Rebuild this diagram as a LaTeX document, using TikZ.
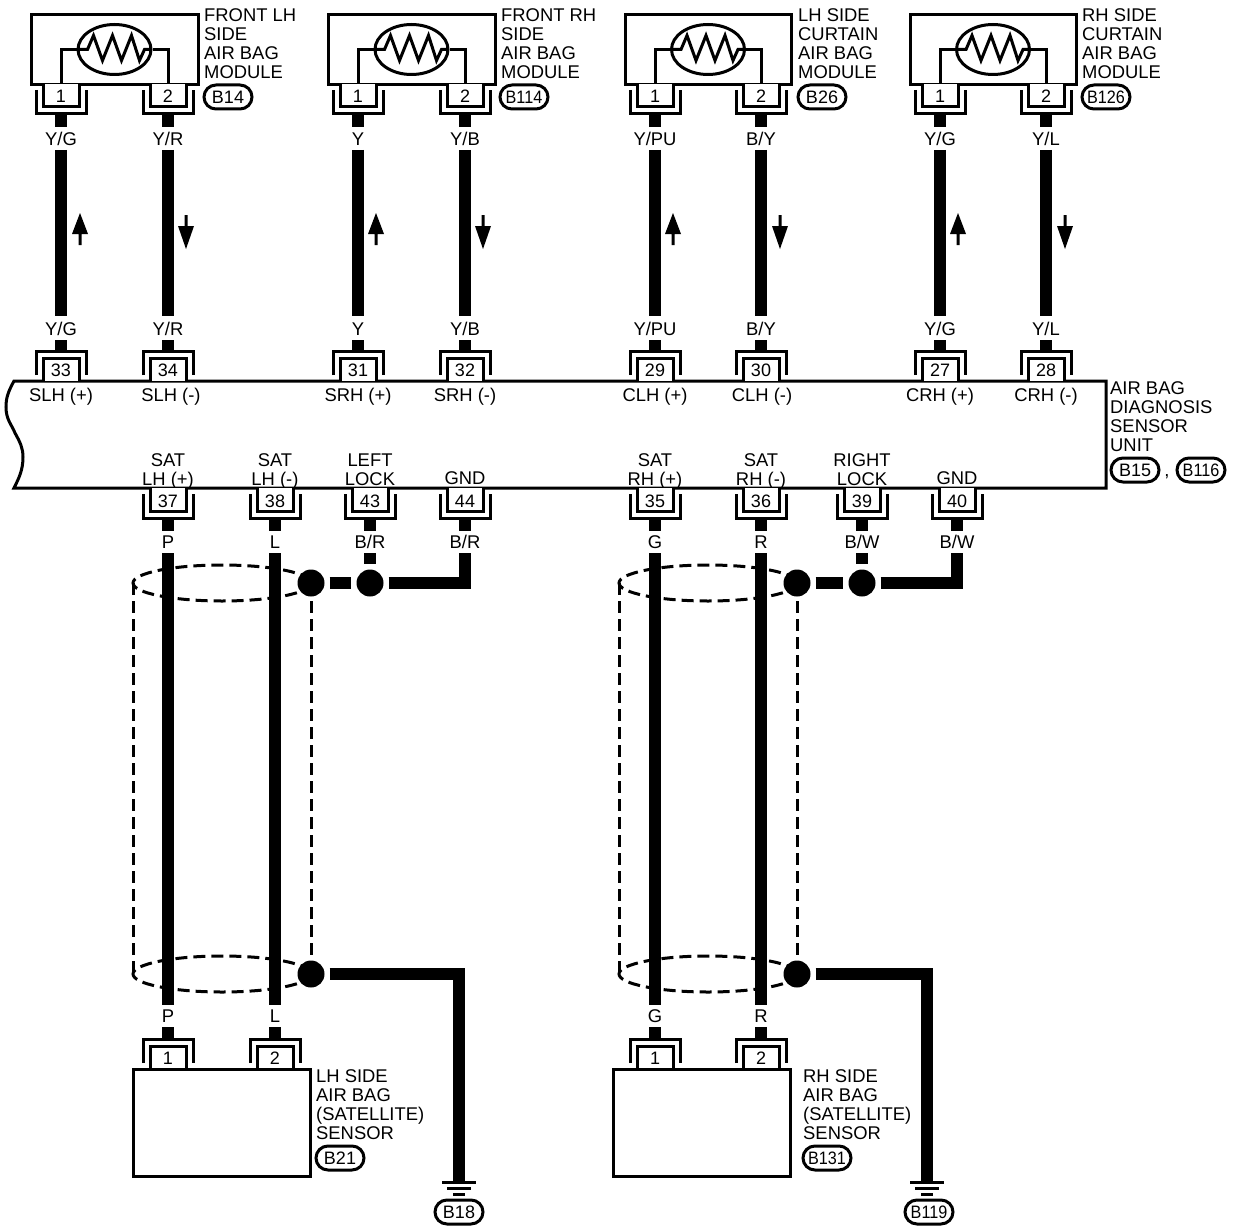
\documentclass[tikz,border=0pt]{standalone}
\usepackage{fontspec}
\setmainfont{Liberation Sans}
\usetikzlibrary{shapes.misc,shapes.geometric}
\tikzset{
 txt/.style={inner sep=0pt,font=\fontsize{18.4}{19}\selectfont,text=black,text height=13.2pt,text depth=0pt},
 ltxt/.style={txt,anchor=west},
 num/.style={inner sep=0pt,font=\fontsize{18}{19}\selectfont,text height=13pt,text depth=0pt},
 shell/.style={line width=3pt,draw=black,line join=miter},
 wire/.style={line width=12.5pt,draw=black,line cap=butt},
 shield/.style={line width=3pt,draw=black,dash pattern=on 12pt off 6pt},
 dot/.style={circle,fill=black,minimum size=27pt,inner sep=0pt},
 badge/.style={rounded rectangle,draw=black,line width=3pt,minimum width=48pt,minimum height=24pt,inner sep=0pt,font=\fontsize{18}{19}\selectfont,text height=13pt,text depth=0pt},
 gnd/.style={line width=3pt,draw=black},
}
\newcommand{\narrow}[1]{\scalebox{0.9}[1]{#1}}
% connector hanging below a horizontal edge
\newcommand{\conndown}[4]{% id, x, y, number
 \draw[shell,fill=white] (#2-18,#3) -- (#2-18,#3+23) -- (#2+18,#3+23) -- (#2+18,#3);
 \draw[shell] (#2-25,#3+6) -- (#2-25,#3+30) -- (#2+25,#3+30) -- (#2+25,#3+6);
 \node[num] (#1) at (#2,#3+12.5) {#4};
}
% connector standing on a horizontal edge
\newcommand{\connup}[4]{%
 \draw[shell,fill=white] (#2-18,#3) -- (#2-18,#3-23) -- (#2+18,#3-23) -- (#2+18,#3);
 \draw[shell] (#2-25,#3-6) -- (#2-25,#3-30) -- (#2+25,#3-30) -- (#2+25,#3-6);
 \node[num] (#1) at (#2,#3-11) {#4};
}
% upper harness: id, x, colour label, top num, bottom num
\newcommand{\upperwire}[5]{%
 \conndown{#1t}{#2}{84}{#4}
 \connup{#1b}{#2}{381}{#5}
 \node[txt] (#1la) at (#2,139) {#3};
 \node[txt] (#1lb) at (#2,329) {#3};
 \coordinate (#1s1) at (#2,114); \coordinate (#1s2) at (#2,127);
 \coordinate (#1w1) at (#2,150); \coordinate (#1w2) at (#2,316);
 \coordinate (#1s3) at (#2,340); \coordinate (#1s4) at (#2,351);
 \draw[wire] (#1s1) -- (#1s2);
 \draw[wire] (#1w1) -- (#1w2);
 \draw[wire] (#1s3) -- (#1s4);
}
\newcommand{\arrowup}[1]{%
 \fill (#1-1.5,245) -- (#1-1.5,234) -- (#1-8,234) -- (#1,213) -- (#1+8,234) -- (#1+1.5,234) -- (#1+1.5,245) -- cycle;
}
\newcommand{\arrowdown}[1]{%
 \fill (#1-1.5,215) -- (#1-1.5,226) -- (#1-8,226) -- (#1,249) -- (#1+8,226) -- (#1+1.5,226) -- (#1+1.5,215) -- cycle;
}
% module: id, x1, x2
\newcommand{\module}[3]{%
 \node[draw=black,line width=3pt,rectangle,minimum width=#3-#2+60,minimum height=70,inner sep=0pt] (#1) at ({(#2+#3)/2},49.5) {};
 \node[draw=black,line width=3pt,ellipse,minimum width=73,minimum height=50,inner sep=0pt] (#1e) at ({(#2+#3)/2},49.5) {};
 \draw[line width=3pt,line join=miter] (#2,84) -- (#2,49.5) -- (#1e.west);
 \draw[line width=3pt,line join=miter] (#3,84) -- (#3,49.5) -- (#1e.east);
 \draw[line width=3pt,line join=miter,shift={({(#2+#3)/2},49.5)}] (-37,0) -- (-27,0) -- (-21,-14) -- (-12,11) -- (-2,-14) -- (7,11) -- (17,-14) -- (25,11) -- (30,0) -- (37,0);
}
\newcommand{\sidetext}[6]{% x y, 4 lines
 \node[ltxt] at (#1,#2) {#3};
 \node[ltxt] at (#1,#2+19) {#4};
 \node[ltxt] at (#1,#2+38) {#5};
 \node[ltxt] at (#1,#2+57) {#6};
}
% lower straight shielded wire
\newcommand{\lowerwire}[5]{% id x label topnum botnum
 \conndown{#1t}{#2}{488}{#4}
 \connup{#1b}{#2}{1069}{#5}
 \node[txt] (#1la) at (#2,542) {#3};
 \node[txt] (#1lb) at (#2,1016) {#3};
 \coordinate (#1s1) at (#2,518); \coordinate (#1s2) at (#2,531);
 \coordinate (#1w1) at (#2,553); \coordinate (#1w2) at (#2,1005);
 \coordinate (#1s3) at (#2,1027); \coordinate (#1s4) at (#2,1039);
 \draw[wire] (#1s1) -- (#1s2);
 \draw[wire] (#1w1) -- (#1w2);
 \draw[wire] (#1s3) -- (#1s4);
}
\newcommand{\shieldset}[2]{% id, left x
 \coordinate (#1tl) at (#2,583); \coordinate (#1tr) at (#2+178,583);
 \coordinate (#1bl) at (#2,974); \coordinate (#1br) at (#2+178,974);
 \draw[shield] (#2+89,583) ellipse (89 and 18);
 \draw[shield] (#2+89,974) ellipse (89 and 18);
 \draw[shield] (#1tl) -- (#1bl);
 \draw[shield] (#1tr) -- (#1br);
}
% lock/gnd pair: id, dot1 x, dot2 x, gnd x, locknum, gndnum, label
\newcommand{\lockset}[7]{%
 \conndown{#1lk}{#3}{488}{#5}
 \conndown{#1gd}{#4}{488}{#6}
 \node[txt] (#1la) at (#3,542) {#7};
 \node[txt] (#1lb) at (#4,542) {#7};
 \node[dot] (#1d1) at (#2,583) {};
 \node[dot] (#1d2) at (#3,583) {};
 \draw[wire] (#3,518) -- (#3,531);
 \draw[wire] (#4,518) -- (#4,531);
 \draw[wire] (#3,553) -- ([yshift=5pt]#1d2.north);
 \draw[wire] ([xshift=5pt]#1d1.east) -- ([xshift=-5pt]#1d2.west);
 \draw[wire,line join=miter] ([xshift=5pt]#1d2.east) -- (#4,583) -- (#4,553);
}
% ground run: id, dot x, gnd x, badge x, text
\newcommand{\groundset}[5]{%
 \node[dot] (#1d3) at (#2,974) {};
 \node[badge] (#1gb) at (#4,1212) {#5};
 \coordinate (#1g) at (#3,1181);
 \draw[wire,line join=miter] ([xshift=5pt]#1d3.east) -- (#3,974) -- (#1g);
 \draw[gnd] (#3-17,1182) -- (#3+17,1182);
 \draw[gnd] (#3-12,1188) -- (#3+12,1188);
 \draw[gnd] (#3-6,1194) -- (#3+6,1194);
}
\begin{document}
\begin{tikzpicture}[x=1pt,y=-1pt]
\useasboundingbox (0,0) rectangle (1234,1228);
\fill[white] (0,0) rectangle (1234,1228);

% modules
\module{m1}{61}{168}
\module{m2}{358}{465}
\module{m3}{655}{761}
\module{m4}{940}{1046}
\sidetext{204}{14.5}{FRONT LH}{SIDE}{AIR BAG}{MODULE}
\sidetext{501}{14.5}{FRONT RH}{SIDE}{AIR BAG}{MODULE}
\sidetext{798}{14.5}{LH SIDE}{CURTAIN}{AIR BAG}{MODULE}
\sidetext{1082}{14.5}{RH SIDE}{CURTAIN}{AIR BAG}{MODULE}
\node[badge] (b14) at (228,97) {B14};
\node[badge] (b114) at (524,97) {\narrow{B114}};
\node[badge] (b26) at (822,97) {B26};
\node[badge] (b126) at (1106,97) {\narrow{B126}};

% main unit band
\draw[line width=3pt,fill=white,line join=miter] (1106,381) -- (14,381) .. controls (8,392) and (6,398) .. (6,407) .. controls (6,420) and (12,425) .. (15,433) .. controls (20,442) and (23,448) .. (23,457) .. controls (23,470) and (19,478) .. (14,488) -- (1106,488) -- cycle;

% upper harness
\upperwire{a}{61}{Y/G}{1}{33}
\upperwire{b}{168}{Y/R}{2}{34}
\upperwire{c}{358}{Y}{1}{31}
\upperwire{d}{465}{Y/B}{2}{32}
\upperwire{e}{655}{Y/PU}{1}{29}
\upperwire{f}{761}{B/Y}{2}{30}
\upperwire{g}{940}{Y/G}{1}{27}
\upperwire{h}{1046}{Y/L}{2}{28}
\arrowup{80}\arrowdown{186}
\arrowup{376}\arrowdown{483}
\arrowup{673}\arrowdown{780}
\arrowup{958}\arrowdown{1065}

% band labels
\node[txt] (t1) at (61,395) {SLH (+)};
\node[txt] (t2) at (171,395) {SLH (-)};
\node[txt] (t3) at (358,395) {SRH (+)};
\node[txt] (t4) at (465,395) {SRH (-)};
\node[txt] (t5) at (655,395) {CLH (+)};
\node[txt] (t6) at (762,395) {CLH (-)};
\node[txt] (t7) at (940,395) {CRH (+)};
\node[txt] (t8) at (1046,395) {CRH (-)};
\node[txt] (u1) at (168,459.5) {SAT};
\node[txt] (u2) at (168,478.5) {LH (+)};
\node[txt] (u3) at (275,459.5) {SAT};
\node[txt] (u4) at (275,478.5) {LH (-)};
\node[txt] (u5) at (370,459.5) {LEFT};
\node[txt] (u6) at (370,478.5) {LOCK};
\node[txt] (u7) at (465,477.5) {GND};
\node[txt] (u8) at (655,459.5) {SAT};
\node[txt] (u9) at (655,478.5) {RH (+)};
\node[txt] (u10) at (761,459.5) {SAT};
\node[txt] (u11) at (761,478.5) {RH (-)};
\node[txt] (u12) at (862,459.5) {RIGHT};
\node[txt] (u13) at (862,478.5) {LOCK};
\node[txt] (u14) at (957,477.5) {GND};
\sidetext{1110}{388}{AIR BAG}{DIAGNOSIS}{SENSOR}{UNIT}
\node[badge] (b15) at (1135,470) {B15};
\node[txt] (comma) at (1167,470) {,};
\node[badge] (b116) at (1201,470) {\narrow{B116}};

% shields
\shieldset{s}{133}
\shieldset{r}{619}

% lower harness
\lowerwire{p}{168}{P}{37}{1}
\lowerwire{l}{275}{L}{38}{2}
\lowerwire{q}{655}{G}{35}{1}
\lowerwire{u}{761}{R}{36}{2}
\lockset{x}{311}{370}{465}{43}{44}{B/R}
\lockset{y}{797}{862}{957}{39}{40}{B/W}
\groundset{x}{311}{459}{459}{B18}
\groundset{y}{797}{927}{929}{\narrow{B119}}

% sensors
\node[draw=black,line width=3pt,minimum width=177,minimum height=107,inner sep=0pt] (lhs) at (221.5,1122.5) {};
\node[draw=black,line width=3pt,minimum width=177,minimum height=107,inner sep=0pt] (rhs) at (701.5,1122.5) {};
\sidetext{316}{1076}{LH SIDE}{AIR BAG}{(SATELLITE)}{SENSOR}
\sidetext{803}{1076}{RH SIDE}{AIR BAG}{(SATELLITE)}{SENSOR}
\node[badge] (b21) at (340,1158) {B21};
\node[badge] (b131) at (827,1158) {\narrow{B131}};
\end{tikzpicture}
\end{document}
